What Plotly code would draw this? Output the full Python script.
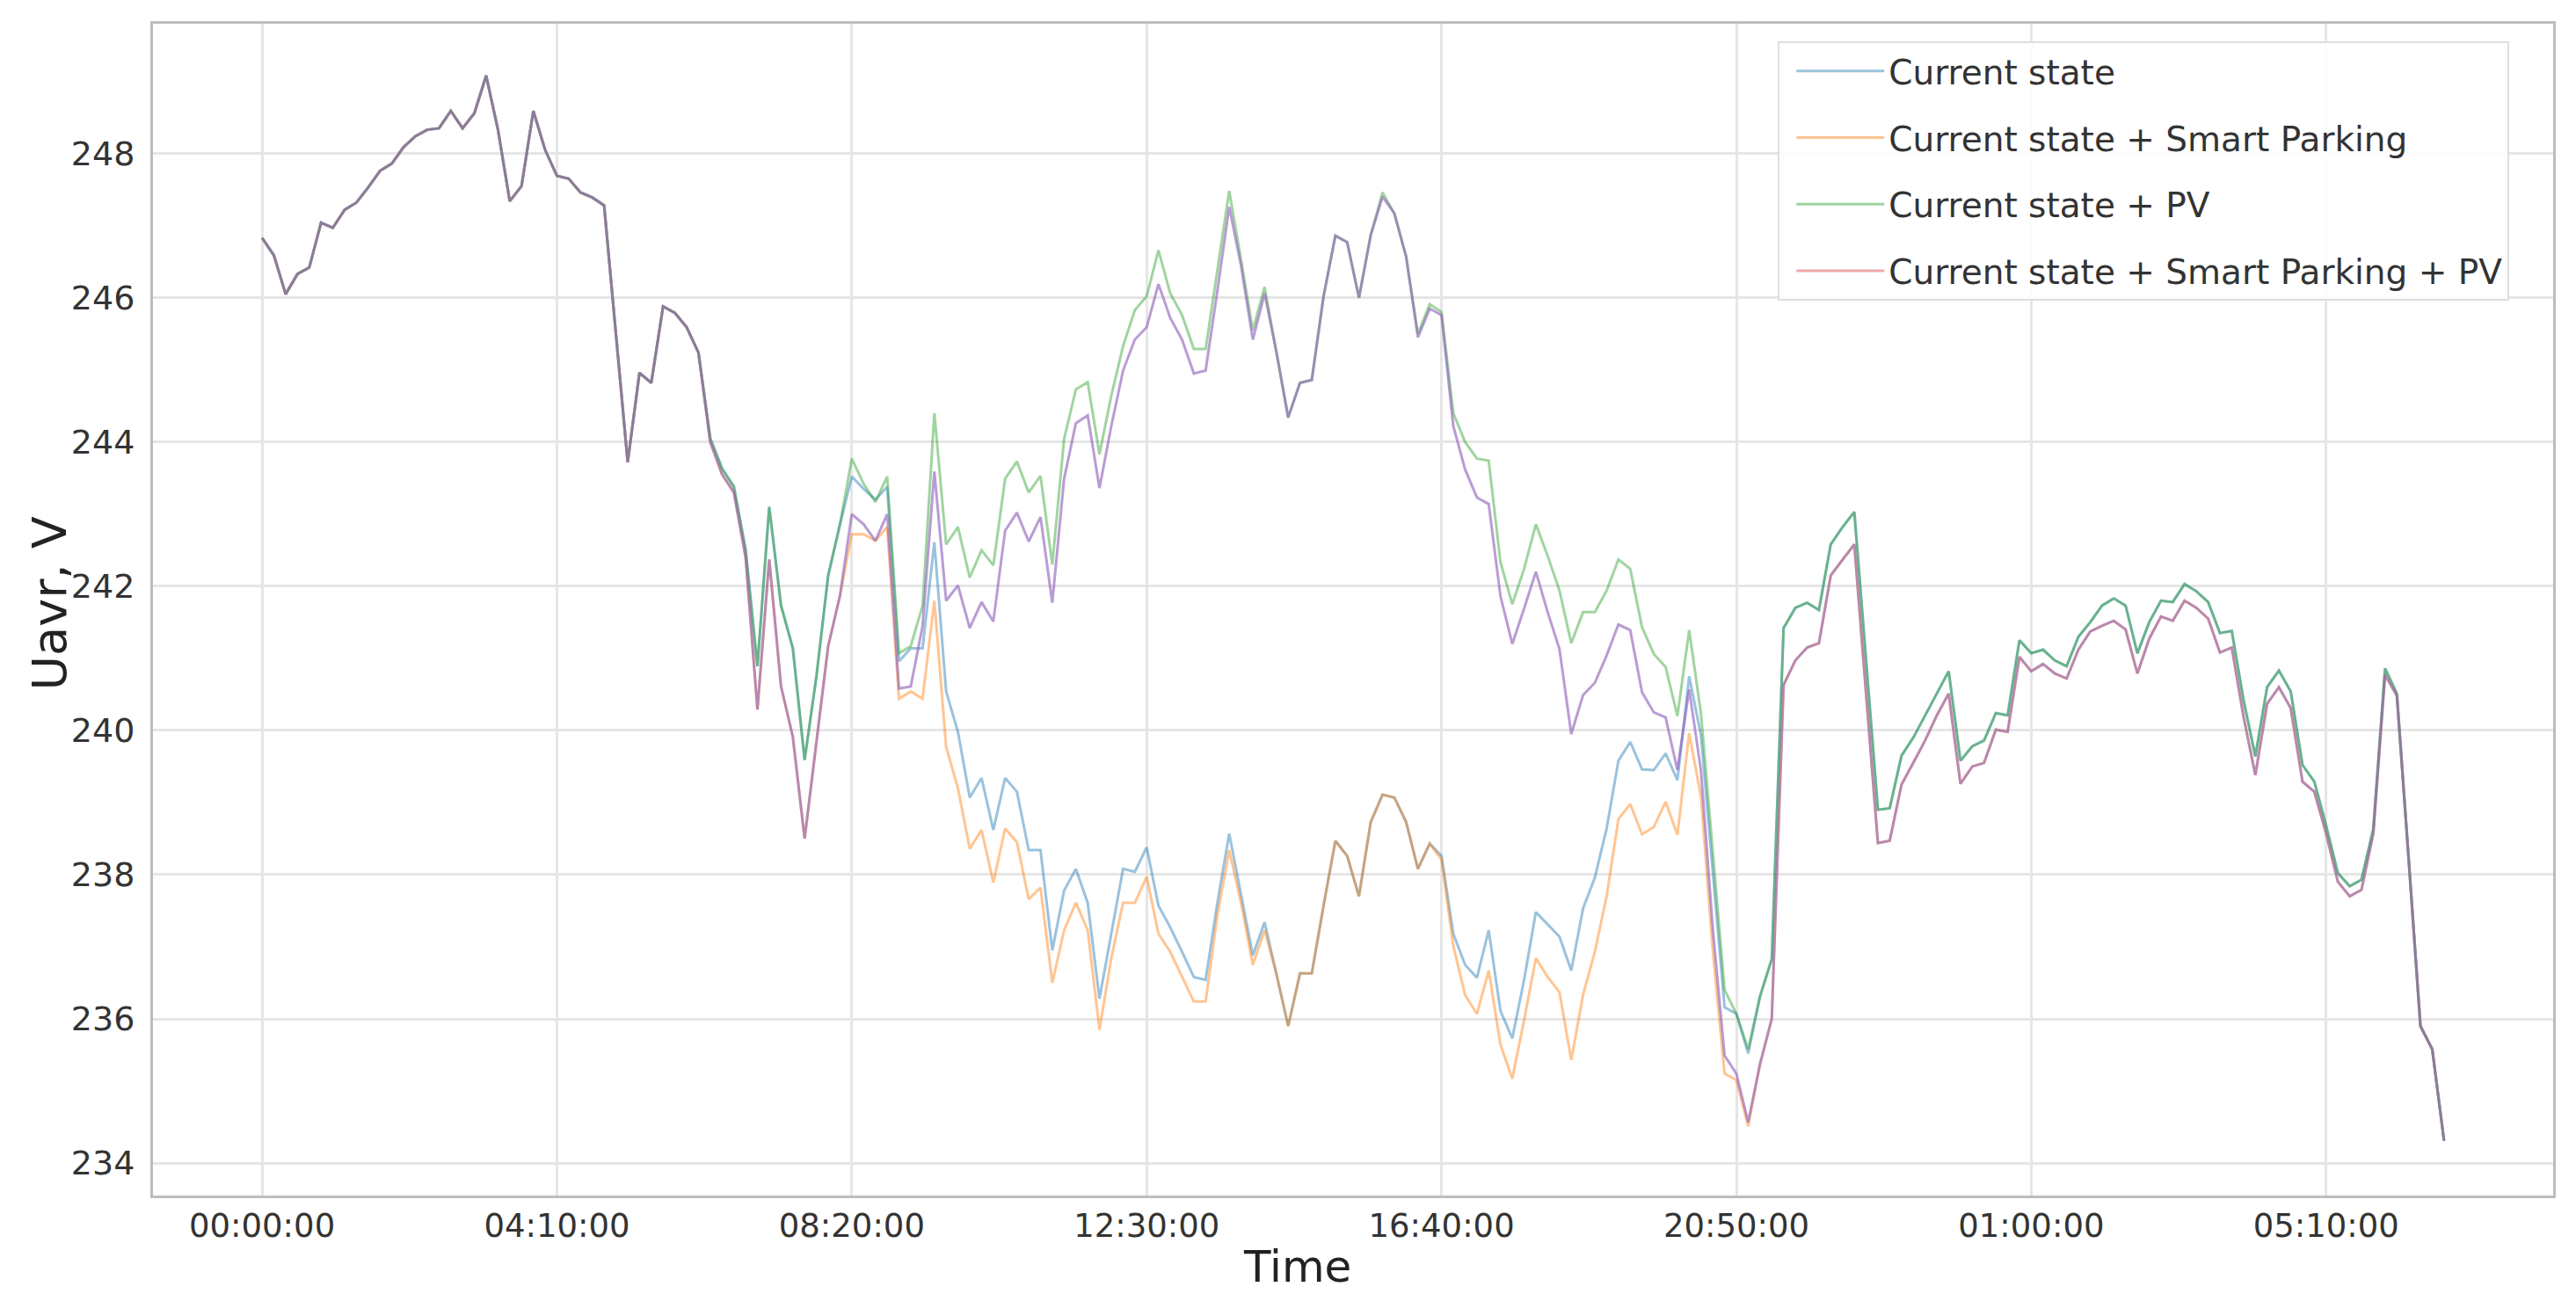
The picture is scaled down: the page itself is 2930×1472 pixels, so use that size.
import pandas as pd
import plotly.graph_objects as go

# 10-minute samples, 00:00 of day 1 to 06:50 of day 2
times = pd.date_range("2020-01-01 00:00", periods=186, freq="10min")

# 00:00 - 06:10, all four scenarios identical
shared_start = [
    246.83, 246.59, 246.05, 246.33, 246.42, 247.04, 246.97, 247.22, 247.32, 247.53,
    247.76, 247.86, 248.09, 248.24, 248.33, 248.35, 248.59, 248.35, 248.56, 249.08,
    248.33, 247.34, 247.55, 248.59, 248.05, 247.69, 247.65, 247.46, 247.39, 247.28,
    245.50, 243.72, 244.96, 244.82, 245.88, 245.79, 245.59, 245.24,
]

# 06:20 - 08:10
morning_no_sp = [244.05, 243.63, 243.38, 242.50, 240.89, 243.10, 241.73, 241.14, 239.59, 240.75, 242.15, 242.86]
morning_sp = [244.00, 243.55, 243.30, 242.40, 240.29, 242.37, 240.61, 239.91, 238.50, 239.84, 241.17, 241.87]

# 08:20 - 21:00
day_current = [
    243.52, 243.35, 243.20, 243.38, 240.96, 241.14, 241.14, 242.61, 240.54, 239.98,
    239.07, 239.34, 238.62, 239.34, 239.15, 238.34, 238.34, 236.95,
    237.78, 238.08, 237.61, 236.28, 237.18, 238.08, 238.04, 238.38, 237.57, 237.27,
    236.93, 236.58, 236.54, 237.61, 238.57, 237.74, 236.88, 237.34, 236.63, 235.90,
    236.63, 236.63, 237.57, 238.47, 238.26, 237.70, 238.73, 239.11, 239.07, 238.73,
    238.08, 238.43, 238.26, 237.18,
    236.75, 236.57, 237.23, 236.11, 235.73, 236.54, 237.48, 237.31, 237.14, 236.67,
    237.53, 237.96, 238.64, 239.58, 239.84, 239.46, 239.45, 239.68, 239.31,
    240.75, 239.93, 238.04, 236.16, 236.07, 235.52,
]
day_sp = [
    242.72, 242.72, 242.63, 242.82, 240.44, 240.54, 240.44, 241.80, 239.77, 239.20,
    238.36, 238.62, 237.89, 238.64, 238.45, 237.66, 237.82, 236.50,
    237.23, 237.61, 237.23, 235.85, 236.84, 237.61, 237.61, 237.97, 237.18, 236.93,
    236.58, 236.24, 236.24, 237.44, 238.34, 237.61, 236.75, 237.23, 236.63, 235.90,
    236.63, 236.63, 237.57, 238.47, 238.26, 237.70, 238.73, 239.11, 239.07, 238.73,
    238.08, 238.43, 238.21, 237.01,
    236.33, 236.07, 236.67, 235.64, 235.17, 235.98, 236.84, 236.58, 236.37, 235.43,
    236.33, 236.93, 237.70, 238.77, 238.98, 238.56, 238.66, 239.01, 238.55,
    239.96, 239.08, 236.95, 235.24, 235.15, 234.51,
]
day_pv = [
    243.77, 243.42, 243.17, 243.52, 241.07, 241.17, 241.73, 244.40, 242.58, 242.82,
    242.12, 242.50, 242.29, 243.49, 243.73, 243.30, 243.53, 242.30,
    244.04, 244.73, 244.83, 243.83, 244.64, 245.33, 245.83, 246.02, 246.66, 246.06,
    245.76, 245.29, 245.29, 246.40, 247.48, 246.53, 245.55, 246.15, 245.25, 244.34,
    244.82, 244.86, 246.02, 246.86, 246.77, 246.00, 246.87, 247.46, 247.17, 246.57,
    245.50, 245.91, 245.80, 244.40,
    244.00, 243.77, 243.74, 242.33, 241.75, 242.24, 242.86, 242.42, 241.94, 241.21,
    241.64, 241.64, 241.94, 242.37, 242.24, 241.43, 241.06, 240.88, 240.20,
    241.39, 240.23, 238.27, 236.40, 236.07, 235.58,
]
day_sp_pv = [
    243.00, 242.86, 242.63, 243.00, 240.58, 240.61, 241.45, 243.59, 241.80, 242.01,
    241.42, 241.78, 241.51, 242.77, 243.02, 242.62, 242.96, 241.77,
    243.49, 244.26, 244.37, 243.36, 244.22, 244.99, 245.42, 245.59, 246.19, 245.72,
    245.42, 244.95, 244.99, 246.10, 247.26, 246.45, 245.42, 246.06, 245.25, 244.34,
    244.82, 244.86, 246.02, 246.86, 246.77, 246.00, 246.87, 247.40, 247.17, 246.57,
    245.45, 245.85, 245.76, 244.22,
    243.62, 243.23, 243.14, 241.86, 241.20, 241.69, 242.20, 241.64, 241.13, 239.95,
    240.49, 240.66, 241.04, 241.47, 241.39, 240.53, 240.25, 240.18, 239.45,
    240.57, 239.44, 237.25, 235.49, 235.24, 234.57,
]

# 21:10 - 06:50, PV has no effect
night_no_sp = [
    236.31, 236.83, 241.42, 241.70, 241.77, 241.67, 242.58, 242.82, 243.03, 241.00,
    238.90, 238.92, 239.65, 239.90, 240.21, 240.51, 240.82, 239.58, 239.78, 239.86,
    240.24, 240.21, 241.25, 241.07, 241.12, 240.97, 240.89, 241.30, 241.50, 241.73,
    241.83, 241.73, 241.07, 241.50, 241.80, 241.78, 242.03, 241.93, 241.78, 241.35,
    241.38, 240.42, 239.64, 240.60, 240.83, 240.54, 239.52, 239.29, 238.68, 238.02,
    237.84, 237.93, 238.63, 240.86, 240.51, 238.22, 235.90, 235.58, 234.31,
]
night_sp = [
    235.37, 236.00, 240.63, 240.97, 241.15, 241.21, 242.15, 242.37, 242.58, 240.50,
    238.44, 238.47, 239.25, 239.55, 239.86, 240.21, 240.51, 239.26, 239.50, 239.55,
    240.01, 239.98, 241.02, 240.82, 240.92, 240.79, 240.72, 241.12, 241.37, 241.45,
    241.52, 241.40, 240.79, 241.27, 241.58, 241.52, 241.80, 241.70, 241.55, 241.08,
    241.15, 240.19, 239.38, 240.37, 240.60, 240.31, 239.29, 239.15, 238.57, 237.90,
    237.70, 237.79, 238.57, 240.77, 240.48, 238.22, 235.90, 235.58, 234.31,
]

series = {
    "Current state": shared_start + morning_no_sp + day_current + night_no_sp,
    "Current state + Smart Parking": shared_start + morning_sp + day_sp + night_sp,
    "Current state + PV": shared_start + morning_no_sp + day_pv + night_no_sp,
    "Current state + Smart Parking + PV": shared_start + morning_sp + day_sp_pv + night_sp,
}
# (data line colour, legend sample colour)
styles = [
    ("rgba(31,119,180,0.45)", None),
    ("rgba(255,127,14,0.45)", None),
    ("rgba(44,160,44,0.45)", None),
    ("rgba(148,103,189,0.65)", "rgba(214,39,40,0.4)"),  # drawn purple, legend pink
]

fig = go.Figure()
for (name, vals), (col, legend_col) in zip(series.items(), styles):
    fig.add_trace(go.Scatter(
        x=times, y=vals, mode="lines", name=name,
        line=dict(color=col, width=3),
        legendgroup=name, showlegend=legend_col is None,
    ))
    if legend_col is not None:
        fig.add_trace(go.Scatter(
            x=[None], y=[None], mode="lines", name=name,
            line=dict(color=legend_col, width=3), legendgroup=name,
        ))

start = times[0]
fig.update_xaxes(
    type="date",
    range=[start - pd.Timedelta(minutes=92.5), start + pd.Timedelta(minutes=1942.5)],
    tick0=start, dtick=250 * 60 * 1000, tickformat="%H:%M:%S",
    showgrid=True, gridcolor="#e6e6e6", gridwidth=2.5,
    showline=True, mirror=True, linecolor="#bdbdbd", linewidth=3,
    ticks="", zeroline=False,
    tickfont=dict(family="DejaVu Sans", size=37, color="#333333"),
)
fig.update_yaxes(
    range=[233.55, 249.8], tick0=234, dtick=2,
    showgrid=True, gridcolor="#e6e6e6", gridwidth=2.5,
    showline=True, mirror=True, linecolor="#bdbdbd", linewidth=3,
    ticks="", ticklabelstandoff=10, zeroline=False,
    tickfont=dict(family="DejaVu Sans", size=38, color="#333333"),
)

fig.add_annotation(text="Time", xref="paper", yref="paper", x=0.4767, y=-0.061,
                   showarrow=False, xanchor="center", yanchor="middle",
                   font=dict(family="DejaVu Sans", size=50, color="#222222"))
fig.add_annotation(text="Uavr, V", xref="paper", yref="paper", x=-0.043, y=0.505,
                   showarrow=False, xanchor="center", yanchor="middle", textangle=-90,
                   font=dict(family="DejaVu Sans", size=54, color="#222222"))

fig.update_layout(
    width=2930, height=1472,
    margin=dict(l=166, r=34, t=19, b=120),
    paper_bgcolor="white", plot_bgcolor="white",
    legend=dict(
        x=0.677, y=0.985, xanchor="left", yanchor="top",
        bgcolor="rgba(255,255,255,0.85)", bordercolor="#dddddd", borderwidth=2,
        font=dict(family="DejaVu Sans", size=39, color="#333333"),
        itemwidth=100, tracegroupgap=22, traceorder="grouped", indentation=14,
    ),
)

fig.write_html("out.html")
